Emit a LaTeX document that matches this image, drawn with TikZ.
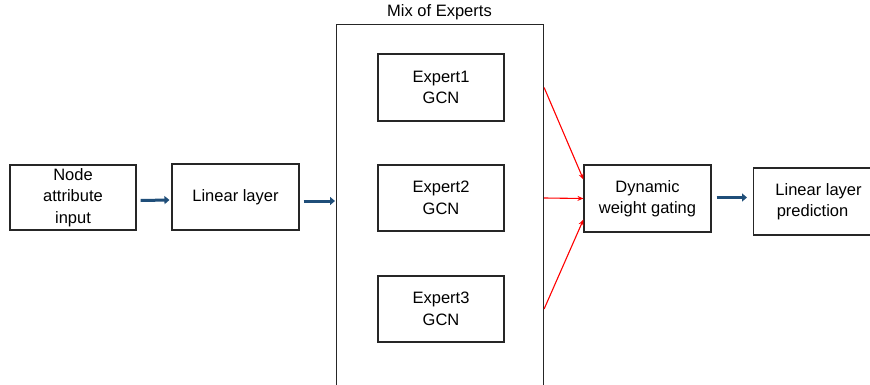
\documentclass[tikz,border=0pt]{standalone}
\usepackage{fontspec}
\setmainfont{Liberation Sans}
\usetikzlibrary{arrows.meta,calc}
\definecolor{arrblue}{HTML}{1F4E79}
\definecolor{arrred}{HTML}{FF0000}
\begin{document}
\begin{tikzpicture}[x=1pt,y=-1pt,
  box/.style={draw=black!85,line width=1.1pt,fill=white,inner sep=0pt,align=center,
    font=\fontsize{16.5}{21.5}\selectfont},
  bluearr/.style={draw=arrblue,line width=3pt,-{Triangle[length=5pt,width=8pt]}},
  redarr/.style={draw=arrred,line width=1.1pt,-{Stealth[length=6pt,width=5pt]}}]
\useasboundingbox (0,0) rectangle (870,385);
\clip (0,0) rectangle (870,385);
\fill[white] (0,0) rectangle (870,385);
\node[box,minimum width=126pt,minimum height=65pt] (inp) at (73,197.5) {Node\\attribute\\input};
\node[box,minimum width=127pt,minimum height=66pt] (lin) at (235.5,197) {Linear layer};
\node[box,minimum width=207pt,minimum height=400pt,anchor=north west] (moe) at (336,24) {};
\node[font=\fontsize{16.5}{20}\selectfont] (moet) at (439.5,12) {Mix of Experts};
\node[box,minimum width=126pt,minimum height=67pt] (e1) at (441,87.5) {Expert1\\GCN};
\node[box,minimum width=126pt,minimum height=66pt] (e2) at (441,198) {Expert2\\GCN};
\node[box,minimum width=126pt,minimum height=66pt] (e3) at (441,309) {Expert3\\GCN};
\node[box,minimum width=127pt,minimum height=67pt] (gate) at (647.5,198.5) {Dynamic\\weight gating};
\node[box,minimum width=130pt,minimum height=67pt,anchor=west] (pred) at (753,201.5) {Linear layer\\prediction\hspace*{12pt}};
\draw[bluearr] ($(inp.east)+(4,3)$) -- ($(lin.west)+(-2,3)$);
\draw[bluearr] ($(lin.east)+(4,4)$) -- ($(moe.west |- lin.east)+(-1,4)$);
\draw[bluearr] ($(gate.east)+(5,-1)$) -- ($(pred.west)+(-6,-4)$);
\draw[redarr] (moe.east |- e1) -- ($(gate.west)+(0,-19)$);
\draw[redarr] (moe.east |- e2) -- (gate.west);
\draw[redarr] (moe.east |- e3) -- ($(gate.west)+(0,21)$);
\end{tikzpicture}
\end{document}
